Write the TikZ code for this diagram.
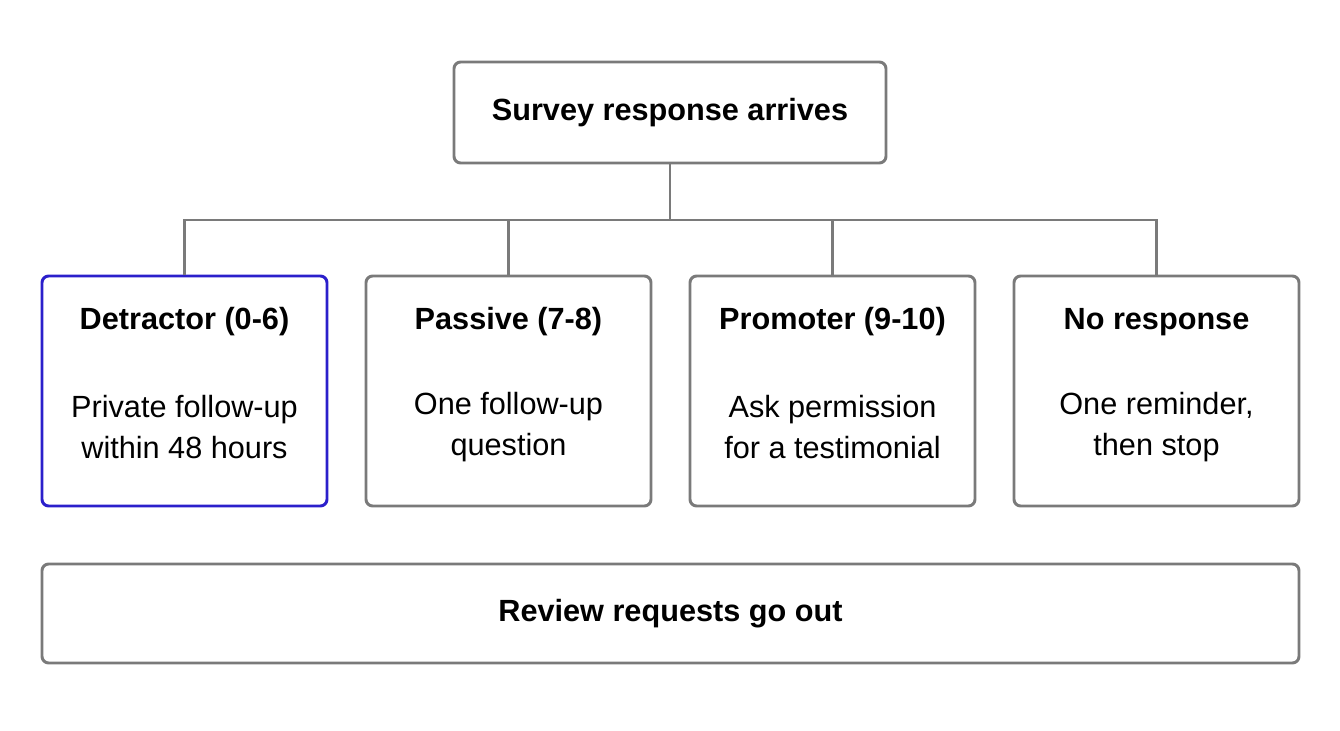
\documentclass[tikz,border=0pt]{standalone}
\usepackage{fontspec}
\setmainfont{Liberation Sans}
\begin{document}
\begin{tikzpicture}[x=0.75pt,y=-0.75pt,
  box/.style={draw=boxgray,line width=2.2pt,rounded corners=5pt,inner sep=0pt},
  line/.style={draw=boxgray,line width=2.2pt},
  bt/.style={font=\fontsize{23}{27}\selectfont\bfseries},
  rt/.style={align=center,font=\fontsize{23}{31}\selectfont}]
\definecolor{boxgray}{HTML}{7A7A7A}
\definecolor{blueb}{HTML}{2B1FCB}
\useasboundingbox (0,0) rectangle (1340,731);
\node[box,minimum width=432*0.75pt,minimum height=101*0.75pt] (top) at (670,112.5) {};
\node[bt] at (top) {Survey response arrives};
\foreach \n/\cx/\col/\t/\a/\b in {d/184.5/blueb/Detractor (0-6)/Private follow-up/within 48 hours,
  p/508.5/boxgray/Passive (7-8)/One follow-up/question,
  m/832.5/boxgray/Promoter (9-10)/Ask permission/for a testimonial,
  n/1156.5/boxgray/No response/{One reminder,}/then stop}{
  \node[box,draw=\col,minimum width=285*0.75pt,minimum height=230*0.75pt] (\n) at (\cx,391) {};
  \node[bt] at (\cx,322) {\t};
  \node[rt] at (\cx,427) {\a\\ \b};
}
\coordinate (j) at (670,220);
\draw[line] (top.south) -- (j);
\draw[line] (d.north) |- (j) -| (n.north);
\draw[line] (p.north) -- (p.north |- j);
\draw[line] (m.north) -- (m.north |- j);
\node[box,minimum width=1257*0.75pt,minimum height=99*0.75pt] (rev) at (670.5,613.5) {};
\node[bt] at (rev) {Review requests go out};
\end{tikzpicture}
\end{document}
